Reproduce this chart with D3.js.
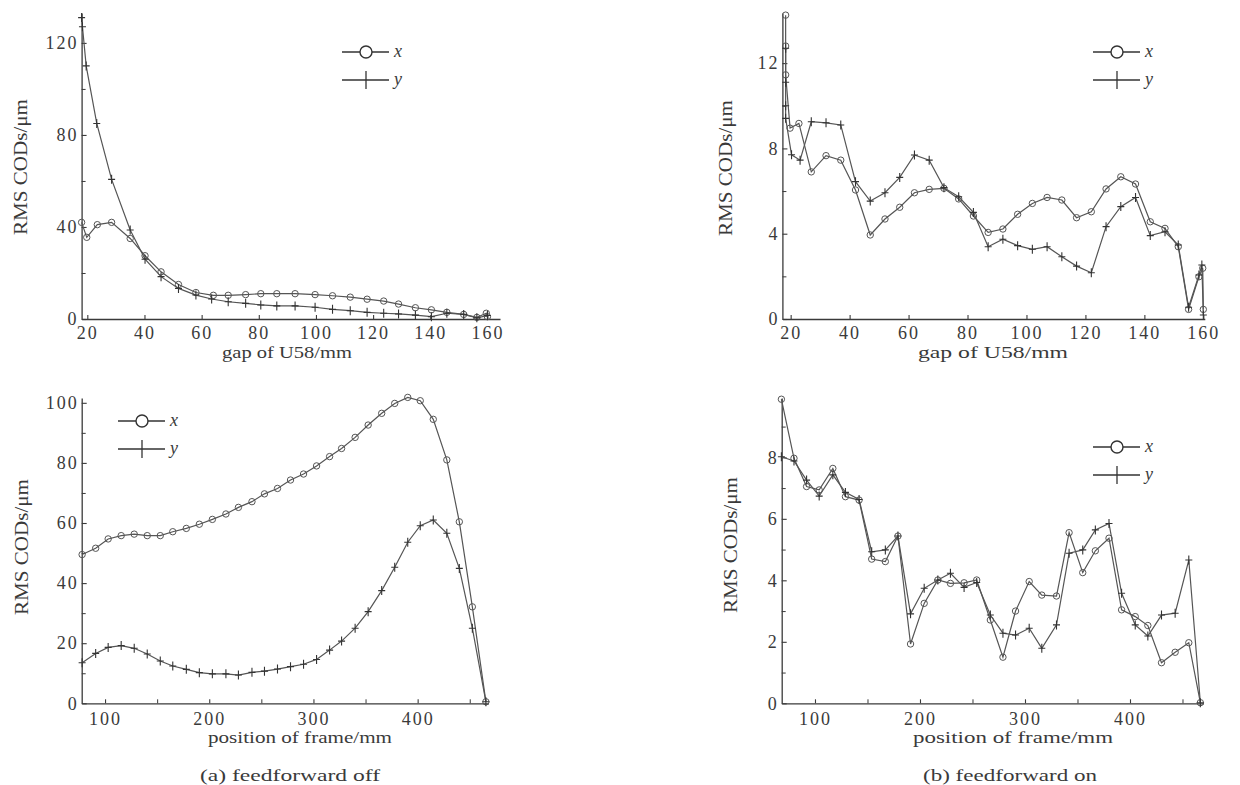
<!DOCTYPE html>
<html>
<head>
<meta charset="utf-8">
<script src="https://cdn.jsdelivr.net/npm/d3@7"></script>
<style>
  html, body { margin: 0; padding: 0; background: #fff; }
  svg { display: block; }
  .tick text { font-family: "Liberation Serif", "Times New Roman", serif; }
</style>
</head>
<body>
<svg id="chart" width="1240" height="785"></svg>
<script>
// ---------------- DATA ----------------
// (a) feedforward off, gap of U58
const gapOffXPos = [18, 19.8, 23.5, 28.5, 35, 40.2, 45.8, 51.9, 58, 64.1, 69.3, 75.4, 80.7, 86.3, 92.7, 99.7, 105.8, 112, 117.9, 123.7, 128.9, 134.8, 140.4, 145.8, 151.7, 156.3, 159.6, 160];
const gapOffXVal = [42, 35.5, 41, 42, 35, 27.5, 20.5, 15, 11.5, 10.3, 10.3, 10.6, 11, 11, 11, 10.6, 10.1, 9.5, 8.6, 7.8, 6.5, 4.9, 4, 2.9, 2, 0.7, 2.5, 1];
const gapOffYPos = [18, 18.3, 19.6, 23.3, 28.5, 35, 40.2, 45.8, 51.9, 58, 63.5, 69.3, 75.4, 80.7, 86.3, 92.7, 99.7, 105.8, 112, 117.9, 123.7, 128.9, 134.8, 140.4, 145.8, 151.7, 156.3, 160];
const gapOffYVal = [131, 127, 110, 85, 60.7, 38.7, 26, 18.4, 13.3, 10.4, 8.7, 7.5, 6.8, 6.1, 5.7, 5.7, 5.1, 4.2, 3.6, 2.9, 2.5, 2.2, 1.7, 1, 2.5, 2, 0.5, 1.5];

// (b) feedforward on, gap of U58
const gapOnXPos = [18.3, 18.3, 18.3, 19.8, 22.8, 27, 32, 37, 42, 47, 52, 57, 62, 67, 72, 77, 82, 87, 92, 97, 102, 107, 112, 117, 122, 127, 132, 137, 142, 147, 151.5, 155, 158.5, 159.8, 160];
const gapOnXVal = [14.25, 12.8, 11.45, 8.95, 9.17, 6.9, 7.66, 7.45, 6.05, 3.94, 4.69, 5.24, 5.92, 6.08, 6.13, 5.63, 4.83, 4.06, 4.22, 4.91, 5.42, 5.7, 5.58, 4.75, 5.03, 6.1, 6.67, 6.33, 4.56, 4.25, 3.39, 0.45, 1.98, 2.38, 0.45];
const gapOnYPos = [18.3, 18.3, 18.3, 18.3, 20.3, 23.2, 27, 32, 37, 42, 47, 52, 57, 62, 67, 72, 77, 82, 87, 92, 97, 102, 107, 112, 117, 122, 127, 132, 137, 142, 147, 151.5, 155, 158.5, 159.5, 160];
const gapOnYVal = [12.7, 11.1, 10.0, 9.41, 7.7, 7.45, 9.25, 9.2, 9.1, 6.44, 5.53, 5.92, 6.64, 7.69, 7.45, 6.16, 5.73, 5.0, 3.39, 3.74, 3.44, 3.27, 3.39, 2.92, 2.48, 2.17, 4.33, 5.27, 5.7, 3.91, 4.09, 3.47, 0.55, 2.06, 2.53, 0.19];

// (a) feedforward off, position of frame
const frameOffPos = [78, 91, 103, 115.5, 128, 140.5, 153, 165, 178, 190.5, 203, 216, 228, 241, 253, 265.5, 278, 290.5, 303, 315.5, 327, 340, 352.5, 365.5, 378, 390.5, 402.5, 415, 428, 440, 452.5, 465.5];
const frameOffXVal = [49.5, 51.6, 54.7, 55.8, 56.3, 55.8, 55.8, 57.1, 58.2, 59.6, 61.2, 63, 65.2, 67.1, 69.7, 71.5, 74.3, 76.3, 79, 82.1, 84.8, 88.5, 92.6, 96.5, 99.8, 101.8, 100.7, 94.5, 81, 60.4, 32.1, 0.5];
const frameOffYVal = [13.5, 16.6, 18.6, 19.2, 18.3, 16.4, 14.1, 12.4, 11.3, 10.2, 9.8, 9.8, 9.4, 10.3, 10.7, 11.4, 12.2, 13, 14.6, 17.7, 20.7, 25, 30.5, 37.5, 45.3, 53.6, 59.1, 61, 56.6, 44.9, 25, 0.5];

// (b) feedforward on, position of frame
const frameOnPos = [68, 80, 92, 104, 117, 129, 142, 154, 167, 179, 191, 204, 217, 229, 242, 254, 267, 279, 291, 304, 316, 330, 342, 355, 367, 380, 392, 405, 417, 430, 443, 456, 467];
const frameOnXVal = [9.89, 7.97, 7.05, 6.94, 7.64, 6.72, 6.61, 4.69, 4.61, 5.44, 1.93, 3.25, 4.01, 3.9, 3.92, 4.01, 2.71, 1.5, 3.0, 3.96, 3.52, 3.49, 5.55, 4.25, 4.96, 5.37, 3.04, 2.82, 2.53, 1.32, 1.66, 1.97, 0.02];
const frameOnYVal = [8.02, 7.88, 7.26, 6.74, 7.43, 6.86, 6.63, 4.93, 4.99, 5.44, 2.91, 3.74, 4.01, 4.23, 3.77, 3.93, 2.87, 2.28, 2.22, 2.44, 1.79, 2.55, 4.88, 4.99, 5.64, 5.85, 3.58, 2.55, 2.19, 2.87, 2.93, 4.66, 0.02];

// tick values
const gapTicks = [20, 40, 60, 80, 100, 120, 140, 160];
const frameTicks = [100, 200, 300, 400];
const frameMinorTicks = [150, 250, 350, 450];
const gapOffYTicks = [0, 40, 80, 120];
const gapOffYMinor = [20, 60, 100];
const gapOnYTicks = [0, 4, 8, 12];
const gapOnYMinor = [2, 6, 10];
const frameOffYTicks = [0, 20, 40, 60, 80, 100];
const frameOffYMinor = [10, 30, 50, 70, 90];
const frameOnYTicks = [0, 2, 4, 6, 8];
const frameOnYMinor = [1, 3, 5, 7, 9];

// labels
const seriesNames = ["x", "y"];
const yTitle = "RMS CODs/\u03bcm";
const gapTitle = "gap of U58/mm";
const frameTitle = "position of frame/mm";
const captions = ["(a) feedforward off", "(b) feedforward on"];

// ---------------- DRAW ----------------
const svg = d3.select("#chart");
const INK = "#3a3a3a";
const LINE = "#555";
const SERIF = "'Liberation Serif', 'Times New Roman', serif";

function zip(p, v) { return p.map((d, i) => [d, v[i]]); }

function panel(cfg) {
  const x = d3.scaleLinear().domain(cfg.xDomain).range(cfg.xRange);
  const y = d3.scaleLinear().domain(cfg.yDomain).range(cfg.yRange);
  const g = svg.append("g");

  // minor ticks
  g.append("g").attr("transform", `translate(0,${cfg.yRange[0]})`)
    .call(d3.axisBottom(x).tickValues(cfg.xMinor || []).tickSizeInner(-4).tickSizeOuter(0).tickFormat(""))
    .call(a => a.select(".domain").remove())
    .call(a => a.selectAll("line").attr("stroke", INK));
  g.append("g").attr("transform", `translate(${cfg.xRange[0]},0)`)
    .call(d3.axisLeft(y).tickValues(cfg.yMinor || []).tickSizeInner(-4).tickSizeOuter(0).tickFormat(""))
    .call(a => a.select(".domain").remove())
    .call(a => a.selectAll("line").attr("stroke", INK));

  // main axes
  const xa = g.append("g").attr("transform", `translate(0,${cfg.yRange[0]})`)
    .call(d3.axisBottom(x).tickValues(cfg.xTicks).tickSizeInner(-4).tickSizeOuter(0).tickPadding(cfg.xPad).tickFormat(d3.format("d")));
  const ya = g.append("g").attr("transform", `translate(${cfg.xRange[0]},0)`)
    .call(d3.axisLeft(y).tickValues(cfg.yTicks).tickSizeInner(-5).tickSizeOuter(0).tickPadding(3).tickFormat(d3.format("d")));
  [xa, ya].forEach(a => {
    a.select(".domain").attr("stroke", INK).attr("stroke-width", 1.3);
    a.selectAll(".tick line").attr("stroke", INK).attr("stroke-width", 1.1);
    a.selectAll(".tick text").attr("fill", INK).style("font-size", "18px")
      .style("letter-spacing", "2px").style("font-family", SERIF);
  });

  // series lines + markers
  const line = d3.line().x(d => x(d[0])).y(d => y(d[1]));
  cfg.series.forEach(s => {
    const pts = zip(s.pos, s.val);
    g.append("path").datum(pts).attr("d", line)
      .attr("fill", "none").attr("stroke", LINE).attr("stroke-width", 1.2);
    const m = g.append("g");
    if (s.marker === "circle") {
      m.selectAll("circle").data(pts).join("circle")
        .attr("cx", d => x(d[0])).attr("cy", d => y(d[1])).attr("r", 3.2)
        .attr("fill", "none").attr("stroke", LINE).attr("stroke-width", 1);
    } else {
      m.selectAll("path").data(pts).join("path")
        .attr("d", d => `M${x(d[0]) - 3.5},${y(d[1])}h7M${x(d[0])},${y(d[1]) - 4.5}v9`)
        .attr("fill", "none").attr("stroke", "#333").attr("stroke-width", 1.1);
    }
  });

  // legend
  const L = cfg.legend;
  seriesNames.forEach((name, i) => {
    const ly = L.y + i * L.dy;
    g.append("line").attr("x1", L.x).attr("x2", L.x + 47).attr("y1", ly).attr("y2", ly)
      .attr("stroke", "#333").attr("stroke-width", 1.3);
    if (i === 0) {
      g.append("circle").attr("cx", L.x + 24).attr("cy", ly).attr("r", 6)
        .attr("fill", "#fff").attr("stroke", "#333").attr("stroke-width", 1.4);
    } else {
      g.append("line").attr("x1", L.x + 24).attr("x2", L.x + 24).attr("y1", ly - 9).attr("y2", ly + 9)
        .attr("stroke", "#333").attr("stroke-width", 1.3);
    }
    g.append("text").attr("x", L.x + 52).attr("y", ly + 5).text(name)
      .attr("fill", INK).style("font-family", SERIF).style("font-style", "italic").style("font-size", "18px");
  });

  // axis titles
  g.append("text").attr("x", cfg.xTitle[0]).attr("y", cfg.xTitle[1]).attr("text-anchor", "middle")
    .attr("textLength", cfg.xTitle[2]).attr("lengthAdjust", "spacingAndGlyphs")
    .attr("fill", INK).style("font-family", SERIF).style("font-size", "17px").text(cfg.xTitleText);
  g.append("text").attr("transform", `translate(${cfg.yTitle[0]},${cfg.yTitle[1]}) rotate(-90)`)
    .attr("text-anchor", "middle").attr("textLength", 136).attr("lengthAdjust", "spacingAndGlyphs")
    .attr("fill", INK).style("font-family", SERIF).style("font-size", "18px").text(yTitle);

  if (cfg.caption) {
    g.append("text").attr("x", cfg.caption[0]).attr("y", cfg.caption[1]).attr("text-anchor", "middle")
      .attr("textLength", cfg.caption[2]).attr("lengthAdjust", "spacingAndGlyphs")
      .attr("fill", INK).style("font-family", SERIF).style("font-size", "17px").text(cfg.captionText);
  }
}

panel({
  xDomain: [18, 164.4], xRange: [81.6, 500], yDomain: [0, 133], yRange: [319, 13],
  xTicks: gapTicks, xMinor: [], yTicks: gapOffYTicks, yMinor: gapOffYMinor, xPad: 7,
  series: [
    { pos: gapOffXPos, val: gapOffXVal, marker: "circle" },
    { pos: gapOffYPos, val: gapOffYVal, marker: "plus" }
  ],
  legend: { x: 342, y: 52, dy: 28 },
  xTitle: [287, 358, 130], xTitleText: gapTitle,
  yTitle: [27, 167]
});

panel({
  xDomain: [17.2, 160.5], xRange: [782.4, 1204.8], yDomain: [0, 14.35], yRange: [319, 13],
  xTicks: gapTicks, xMinor: [], yTicks: gapOnYTicks, yMinor: gapOnYMinor, xPad: 7,
  series: [
    { pos: gapOnXPos, val: gapOnXVal, marker: "circle" },
    { pos: gapOnYPos, val: gapOnYVal, marker: "plus" }
  ],
  legend: { x: 1093, y: 52, dy: 28 },
  xTitle: [993, 358, 150], xTitleText: gapTitle,
  yTitle: [732, 168]
});

panel({
  xDomain: [77.6, 468], xRange: [81.7, 488.5], yDomain: [0, 101.6], yRange: [703.3, 398],
  xTicks: frameTicks, xMinor: frameMinorTicks, yTicks: frameOffYTicks, yMinor: frameOffYMinor, xPad: 9,
  series: [
    { pos: frameOffPos, val: frameOffXVal, marker: "circle" },
    { pos: frameOffPos, val: frameOffYVal, marker: "plus" }
  ],
  legend: { x: 118, y: 421, dy: 28 },
  xTitle: [300, 743, 184], xTitleText: frameTitle,
  yTitle: [28, 547],
  caption: [290, 781, 180], captionText: captions[0]
});

panel({
  xDomain: [68.3, 470], xRange: [781.7, 1203.5], yDomain: [0, 9.93], yRange: [703.3, 398],
  xTicks: frameTicks, xMinor: frameMinorTicks, yTicks: frameOnYTicks, yMinor: frameOnYMinor, xPad: 9,
  series: [
    { pos: frameOnPos, val: frameOnXVal, marker: "circle" },
    { pos: frameOnPos, val: frameOnYVal, marker: "plus" }
  ],
  legend: { x: 1093, y: 447, dy: 28 },
  xTitle: [1013, 743, 200], xTitleText: frameTitle,
  yTitle: [737, 545],
  caption: [1010, 781, 174], captionText: captions[1]
});
</script>
</body>
</html>
